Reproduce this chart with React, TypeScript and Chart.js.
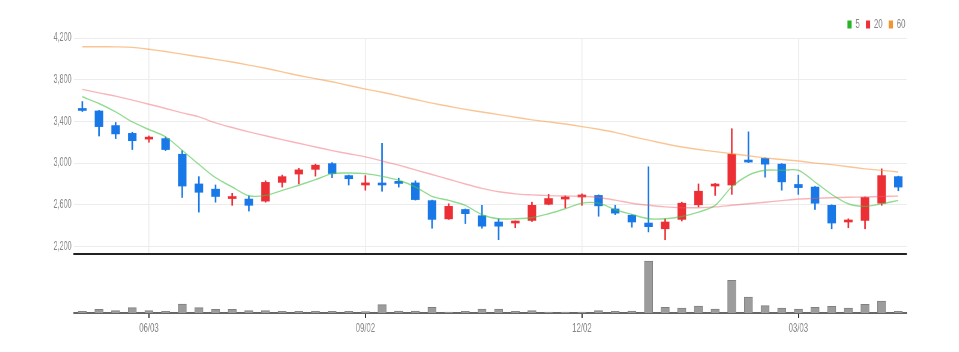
import React, { useEffect, useRef } from 'react';
import { Chart, registerables } from 'chart.js';

Chart.register(...registerables);

// weekly candles
const DATES = [
  '05/06', '05/13', '05/20', '05/27', '06/03', '06/10', '06/17', '06/24', '07/01', '07/08',
  '07/15', '07/22', '07/29', '08/05', '08/12', '08/19', '08/26', '09/02', '09/09', '09/16',
  '09/23', '09/30', '10/07', '10/14', '10/21', '10/28', '11/04', '11/11', '11/18', '11/25',
  '12/02', '12/09', '12/16', '12/23', '12/30', '01/06', '01/13', '01/20', '01/27', '02/03',
  '02/10', '02/17', '02/24', '03/03', '03/10', '03/17', '03/24', '03/31', '04/07', '04/14',
];
const TICK_LABELS = ['06/03', '09/02', '12/02', '03/03'];

const OPEN = [3520, 3500, 3360, 3285, 3230, 3235, 3085, 2800, 2750, 2660, 2655, 2635, 2815, 2895, 2940, 2995, 2880, 2790, 2805, 2825, 2810, 2640, 2465, 2555, 2495, 2435, 2425, 2450, 2605, 2655, 2675, 2690, 2560, 2500, 2425, 2370, 2460, 2600, 2780, 2790, 3025, 3045, 2990, 2795, 2770, 2595, 2435, 2450, 2615, 2870];
const HIGH = [3590, 3505, 3390, 3295, 3260, 3250, 3120, 2870, 2790, 2710, 2685, 2830, 2885, 2950, 2990, 3005, 2885, 2880, 3190, 2855, 2830, 2645, 2610, 2560, 2595, 2465, 2445, 2625, 2700, 2685, 2705, 2695, 2595, 2505, 2965, 2465, 2625, 2800, 2805, 3330, 3300, 3050, 2995, 2885, 2775, 2600, 2465, 2675, 2945, 2875];
const LOW = [3495, 3260, 3235, 3130, 3200, 3120, 2670, 2530, 2625, 2595, 2540, 2625, 2770, 2800, 2875, 2860, 2790, 2740, 2730, 2770, 2645, 2375, 2460, 2420, 2375, 2265, 2380, 2440, 2600, 2570, 2595, 2490, 2505, 2385, 2340, 2265, 2445, 2580, 2690, 2700, 3005, 2865, 2740, 2700, 2555, 2370, 2380, 2370, 2595, 2735];
const CLOSE = [3505, 3350, 3280, 3215, 3240, 3130, 2780, 2720, 2680, 2670, 2595, 2815, 2870, 2935, 2980, 2900, 2850, 2810, 2790, 2805, 2650, 2460, 2585, 2515, 2395, 2395, 2440, 2595, 2660, 2675, 2685, 2590, 2520, 2435, 2390, 2435, 2615, 2730, 2790, 3085, 3010, 2990, 2820, 2765, 2615, 2425, 2445, 2670, 2880, 2770];

const VOLUME = [1700, 3700, 2300, 5300, 2300, 1700, 9000, 5300, 3700, 3700, 2300, 2300, 1700, 1700, 1700, 1700, 1700, 1300, 8300, 2000, 2000, 5700, 1000, 1700, 4000, 4000, 1700, 2300, 1000, 1000, 1000, 2300, 1700, 2000, 52000, 5700, 5000, 7000, 4000, 32700, 16000, 7300, 5000, 4000, 5700, 6700, 5000, 8700, 12000, 1700];

const MA5 = [3636, 3572, 3491, 3395, 3322, 3251, 3123, 2988, 2860, 2771, 2687, 2690, 2738, 2787, 2841, 2899, 2905, 2899, 2873, 2835, 2771, 2681, 2642, 2594, 2505, 2466, 2466, 2476, 2514, 2562, 2616, 2616, 2553, 2508, 2466, 2466, 2488, 2530, 2594, 2771, 2883, 2931, 2931, 2931, 2818, 2700, 2610, 2585, 2610, 2642];
const MA20 = [3707, 3674, 3642, 3604, 3565, 3524, 3482, 3443, 3386, 3341, 3299, 3262, 3225, 3190, 3155, 3120, 3090, 3060, 3020, 2980, 2935, 2890, 2845, 2800, 2758, 2725, 2705, 2695, 2688, 2684, 2682, 2670, 2645, 2615, 2595, 2580, 2572, 2572, 2580, 2595, 2610, 2625, 2640, 2655, 2662, 2668, 2672, 2675, 2680, 2683];
const MA60 = [4116, 4116, 4115, 4110, 4092, 4070, 4045, 4020, 3995, 3970, 3940, 3910, 3875, 3840, 3810, 3780, 3745, 3710, 3680, 3645, 3610, 3575, 3545, 3515, 3490, 3465, 3440, 3415, 3395, 3375, 3350, 3325, 3295, 3255, 3220, 3185, 3155, 3130, 3110, 3090, 3070, 3050, 3035, 3020, 3000, 2985, 2965, 2945, 2930, 2915];

const Y_TICKS = [2200, 2600, 3000, 3400, 3800, 4200];
const LEGEND_NAMES = ['5', '20', '60'];

const FONT = "'Liberation Sans', Arial, sans-serif";
const UP = '#ec2f35';
const DOWN = '#1878e8';
const SQUEEZE = 0.6;
const VIEW_W = 943;
const CANVAS_W = Math.round(VIEW_W / SQUEEZE);
const PRICE_H = 249;
const VOL_H = 87;

const tickIdx = DATES.map((d, i) => (TICK_LABELS.includes(d) ? i : -1)).filter((i) => i >= 0);
const candleColors = OPEN.map((o, i) => (CLOSE[i] >= o ? UP : DOWN));

export default function App() {
  const priceRef = useRef<HTMLCanvasElement>(null);
  const volRef = useRef<HTMLCanvasElement>(null);

  useEffect(() => {
    const price = new Chart(priceRef.current!, {
      type: 'bar',
      data: {
        labels: DATES,
        datasets: [
          {
            type: 'line', label: '5', data: MA5, borderColor: 'rgba(70,195,70,0.6)',
            borderWidth: 1.4, pointRadius: 0, tension: 0.3, order: 0,
          } as any,
          {
            type: 'line', label: '20', data: MA20, borderColor: 'rgba(240,90,100,0.45)',
            borderWidth: 1.4, pointRadius: 0, tension: 0.3, order: 0,
          } as any,
          {
            type: 'line', label: '60', data: MA60, borderColor: 'rgba(245,150,60,0.55)',
            borderWidth: 1.4, pointRadius: 0, tension: 0.3, order: 0,
          } as any,
          {
            type: 'bar', label: 'body', data: OPEN.map((o, i) => [o, CLOSE[i]]),
            backgroundColor: candleColors, borderWidth: 0, barThickness: 13.5,
            grouped: false, minBarLength: 2, order: 1,
          } as any,
          {
            type: 'bar', label: 'wick', data: LOW.map((l, i) => [l, HIGH[i]]),
            backgroundColor: candleColors, borderWidth: 0, barThickness: 2,
            grouped: false, order: 2,
          } as any,
        ],
      },
      options: {
        responsive: false,
        animation: false,
        devicePixelRatio: 1,
        layout: { padding: { left: 0, right: 66, top: 0, bottom: 0 } },
        plugins: {
          tooltip: { enabled: false },
          legend: {
            display: true,
            position: 'top',
            align: 'end',
            maxHeight: 30,
            onClick: () => {},
            labels: {
              boxWidth: 7,
              boxHeight: 8,
              padding: 10,
              color: '#888',
              font: { family: FONT, size: 13 },
              generateLabels: () =>
                LEGEND_NAMES.map((t, i) => ({
                  text: t,
                  fillStyle: ['#25b525', '#ee3038', '#f39431'][i],
                  strokeStyle: ['#25b525', '#ee3038', '#f39431'][i],
                  lineWidth: 0,
                  hidden: false,
                  datasetIndex: i,
                  fontColor: '#888',
                })),
            },
          },
        },
        scales: {
          x: {
            type: 'category',
            offset: true,
            grid: {
              offset: false,
              drawTicks: false,
              lineWidth: 1.6,
              color: (ctx: any) => (tickIdx.includes(ctx.index) ? '#ececec' : 'rgba(0,0,0,0)'),
            },
            ticks: { display: false },
            border: { display: true, color: '#222', width: 2 },
            afterFit: (s: any) => { s.height = 3; s.paddingLeft = 0; s.paddingRight = 0; },
          },
          y: {
            position: 'left',
            min: 2128,
            max: 4200,
            afterBuildTicks: (s: any) => { s.ticks = Y_TICKS.map((v) => ({ value: v })); },
            ticks: {
              padding: 4,
              color: '#888',
              font: { family: FONT, size: 12 },
              callback: (v: any) => Number(v).toLocaleString('en-US'),
            },
            grid: { color: '#ececec', drawTicks: false, lineWidth: 1 },
            border: { display: false },
            afterFit: (s: any) => { s.width = 110; s.paddingTop = 0; s.paddingBottom = 0; },
          },
          yR: {
            position: 'right',
            display: true,
            grid: { display: false },
            ticks: { display: false },
            border: { display: false },
            afterFit: (s: any) => { s.width = 8; s.paddingTop = 0; s.paddingBottom = 0; },
          },
        },
      } as any,
    });

    const vol = new Chart(volRef.current!, {
      type: 'bar',
      data: {
        labels: DATES,
        datasets: [
          {
            label: 'volume', data: VOLUME, backgroundColor: '#9c9c9c', borderColor: '#808080',
            borderWidth: 1, barThickness: 14,
          },
        ],
      },
      options: {
        responsive: false,
        animation: false,
        devicePixelRatio: 1,
        layout: { padding: { left: 110, right: 74, top: 0, bottom: 0 } },
        plugins: { legend: { display: false }, tooltip: { enabled: false } },
        scales: {
          x: {
            offset: true,
            grid: {
              offset: false,
              drawOnChartArea: false,
              drawTicks: true,
              tickLength: 5,
              lineWidth: 2,
              color: (ctx: any) => (tickIdx.includes(ctx.index) ? '#333' : 'rgba(0,0,0,0)'),
            },
            ticks: {
              autoSkip: false,
              maxRotation: 0,
              minRotation: 0,
              padding: 3,
              color: '#888',
              font: { family: FONT, size: 13 },
              callback: (_v: any, i: number) => (tickIdx.includes(i) ? DATES[i] : ''),
            },
            border: { display: true, color: '#666', width: 2 },
            afterFit: (s: any) => { s.height = VOL_H - 56; s.paddingLeft = 0; s.paddingRight = 0; },
          },
          y: { display: false, min: 0, max: 56000 },
        },
      } as any,
    });

    return () => {
      price.destroy();
      vol.destroy();
    };
  }, []);

  return (
    <div style={{ width: VIEW_W }}>
      <canvas
        ref={priceRef}
        width={CANVAS_W}
        height={PRICE_H}
        style={{ display: 'block', width: VIEW_W + 'px', height: PRICE_H + 'px' }}
      />
      <canvas
        ref={volRef}
        width={CANVAS_W}
        height={VOL_H}
        style={{ display: 'block', width: VIEW_W + 'px', height: VOL_H + 'px' }}
      />
    </div>
  );
}
